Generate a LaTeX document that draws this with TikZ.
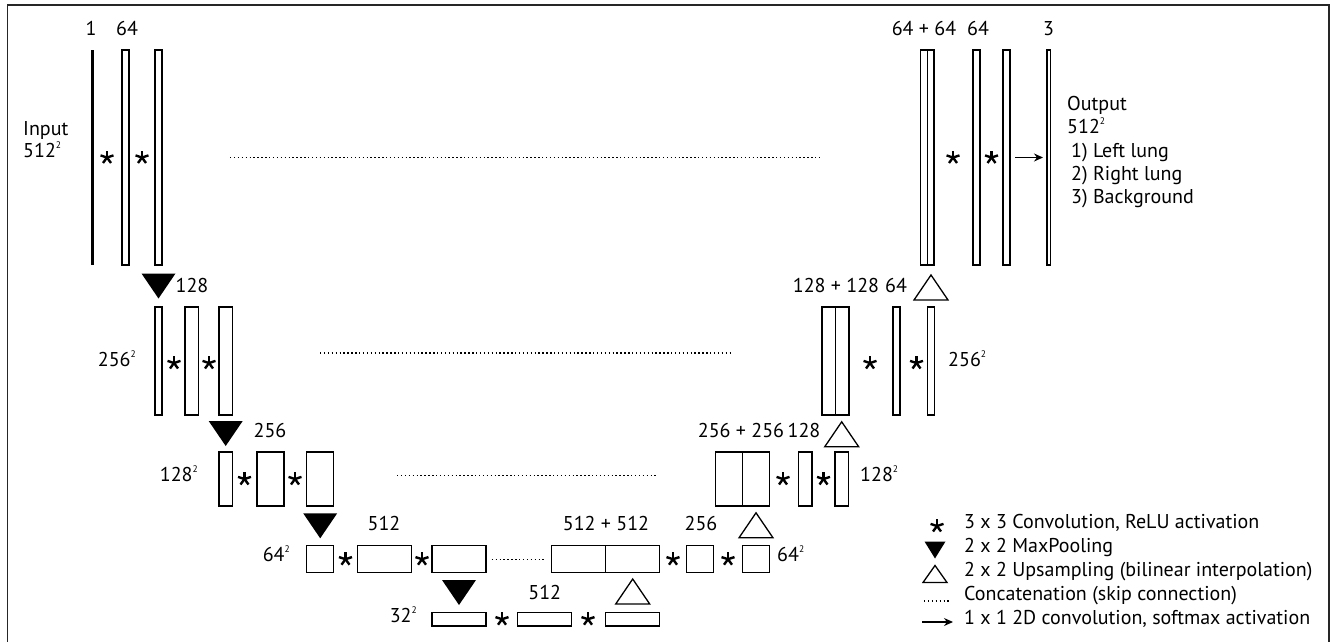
\documentclass[tikz,border=0pt]{standalone}
\usepackage{fontspec}
\setmainfont{PT Sans}
\usetikzlibrary{arrows.meta}
\newcommand\sqr{\raisebox{0.45em}{\fontsize{9.5}{9.5}\selectfont 2}}
\newcommand\cstar[2]{\foreach \a in {-90,-18,-162,54,126} \draw[line width=2.4pt] (#1,#2) -- ++(\a:6.8);}
\newcommand\bx[5]{\node[box,minimum width={(#4)-(#2)},minimum height={(#5)-(#3)}] (#1) at ({((#2)+(#4))/2},{((#3)+(#5))/2}) {};}
\newcommand\dtri[4]{\fill (#1-#3,#2-#4) -- (#1+#3,#2-#4) -- (#1,#2+#4) -- cycle;}
\newcommand\utri[4]{\draw[line width=1.3pt,line join=miter] (#1-#3,#2+#4) -- (#1+#3,#2+#4) -- (#1,#2-#4) -- cycle;}
\begin{document}
\begin{tikzpicture}[x=1pt,y=-1pt,
  box/.style={draw, line width=1.3pt, inner sep=0pt, outer sep=0pt},
  lbl/.style={inner sep=0pt, font=\fontsize{20}{24}\selectfont, text height=0.7em, text depth=0.2em},
  skip/.style={line width=1.2pt, dash pattern=on 1.4pt off 2.5pt},
  arr/.style={line width=1.3pt, -{Stealth[length=9pt,width=8pt]}}
]
\useasboundingbox (0,0) rectangle (1336,642);
\draw[line width=1.5pt, black!85] (7.5,642) -- (7.5,5) -- (1329,5) -- (1329,642);

% ---- level 1 (512^2)
\node[fill=black, inner sep=0pt, minimum width=3pt, minimum height=215pt] (in) at (92,157.5) {};
\bx{a1}{122}{50}{129}{265}
\bx{a2}{155}{50}{162}{265}
\bx{d1c1}{920.5}{50}{927.5}{265}
\bx{d1c2}{927.5}{50}{934}{265}
\bx{d1a}{973}{50}{980}{265}
\bx{d1b}{1003}{50}{1010}{265}
\bx{out}{1047}{50}{1050.5}{265}

% ---- level 2 (256^2)
\bx{b0}{155}{307}{162}{415}
\bx{b1}{185}{307}{198.5}{415}
\bx{b2}{219}{307}{232.5}{415}
\bx{d2c1}{822}{307}{835.5}{415}
\bx{d2c2}{835.5}{307}{849}{415}
\bx{d2a}{893}{307}{900}{415}
\bx{d2b}{927.5}{307}{934.5}{415}

% ---- level 3 (128^2)
\bx{c0}{219}{452}{232.5}{506}
\bx{c1}{257}{452}{284}{506}
\bx{c2}{306.7}{452}{333.7}{506}
\bx{d3c1}{715.5}{452}{742.5}{506}
\bx{d3c2}{742.5}{452}{769.5}{506}
\bx{d3a}{798.5}{452}{812}{506}
\bx{d3b}{835}{452}{848.5}{506}

% ---- level 4 (64^2)
\bx{e0}{306.7}{545.7}{333.7}{572.7}
\bx{e1}{357.5}{545.7}{411.5}{572.7}
\bx{e2}{432}{545.7}{486}{572.7}
\bx{d4c1}{551.7}{545.7}{605.7}{572.7}
\bx{d4c2}{605.7}{545.7}{659.7}{572.7}
\bx{d4a}{686.7}{545.7}{713.7}{572.7}
\bx{d4b}{742.5}{545.7}{769.5}{572.7}

% ---- level 5 (32^2)
\bx{f0}{432}{612.3}{486}{626}
\bx{f1}{517.7}{612.3}{571.7}{626}
\bx{f2}{605.7}{612.3}{659.7}{626}

% ---- convolutions
\cstar{107}{157.5}\cstar{142}{157.5}\cstar{953}{157.5}\cstar{991.5}{157.5}
\cstar{174}{363}\cstar{209}{363}\cstar{870}{363}\cstar{916.5}{363}
\cstar{244.5}{479}\cstar{295}{479}\cstar{783}{479}\cstar{823.5}{479}
\cstar{345.5}{559.2}\cstar{422}{559.2}\cstar{673}{559.2}\cstar{728}{559.2}
\cstar{502}{619.2}\cstar{588}{619.2}

% ---- pooling / upsampling
\dtri{158.5}{286}{17}{12.5}\dtri{225.7}{433.5}{17}{12.5}\dtri{320.2}{525.8}{17}{12.5}\dtri{459}{592.5}{17}{12.5}
\utri{632.7}{591.5}{17}{12.5}\utri{756}{525.3}{17}{12.5}\utri{841.7}{434.3}{17}{12.5}\utri{931}{287.5}{17}{12.5}

% ---- skip connections
\coordinate (s1a) at (230,157.5); \coordinate (s1b) at (820,157.5);
\coordinate (s2a) at (320,353); \coordinate (s2b) at (732,353);
\coordinate (s3a) at (397,475.7); \coordinate (s3b) at (657,475.7);
\coordinate (s4a) at (491.7,559.2); \coordinate (s4b) at (546,559.2);
\draw[skip] (s1a) -- (s1b);
\draw[skip] (s2a) -- (s2b);
\draw[skip] (s3a) -- (s3b);
\draw[skip] (s4a) -- (s4b);

% ---- final 1x1 conv
\draw[arr] ([xshift=5pt]d1b.east) -- ([xshift=-4pt]out.west);

% ---- channel labels
\node[lbl] (t1) at (91,33) {1};
\node[lbl] (t64) at (127,33) {64};
\node[lbl] (t6464) at (924,33) {64 + 64};
\node[lbl] (t64r) at (978,33) {64};
\node[lbl] (t3) at (1048.5,33) {3};
\node[lbl] (t128) at (192,290) {128};
\node[lbl] (t128128) at (836,290) {128 + 128};
\node[lbl] (t64b) at (896,290) {64};
\node[lbl] (t256) at (270,434.5) {256};
\node[lbl] (t256256) at (741,434.5) {256 + 256};
\node[lbl] (t128r) at (804,434.5) {128};
\node[lbl] (t512) at (384,528) {512};
\node[lbl] (t512512) at (606,528) {512 + 512};
\node[lbl] (t256r) at (701,528) {256};
\node[lbl] (t512b) at (544.7,597) {512};

% ---- resolution labels
\node[lbl, anchor=west] (inp) at (23,133) {Input};
\node[lbl, anchor=west] (inr) at (23,155) {512\sqr};
\node[lbl, anchor=east] (r2) at (136,364) {256\sqr};
\node[lbl, anchor=east] (r3) at (198,479) {128\sqr};
\node[lbl, anchor=east] (r4) at (290,559) {64\sqr};
\node[lbl, anchor=east] (r5) at (417,620) {32\sqr};
\node[lbl, anchor=west] (r2r) at (948,364) {256\sqr};
\node[lbl, anchor=west] (r3r) at (860,479) {128\sqr};
\node[lbl, anchor=west] (r4r) at (777,559) {64\sqr};

% ---- output description
\node[lbl, anchor=west] (o1) at (1067,108) {Output};
\node[lbl, anchor=west] (o2) at (1067,131) {512\sqr};
\node[lbl, anchor=west] (o3) at (1071,155) {1) Left lung};
\node[lbl, anchor=west] (o4) at (1071,178) {2) Right lung};
\node[lbl, anchor=west] (o5) at (1071,201) {3) Background};

% ---- legend
\cstar{937}{526}
\node[lbl, anchor=west] (l1) at (964,526) {3 x 3 Convolution, ReLU activation};
\dtri{935}{550}{10.5}{8.5}
\node[lbl, anchor=west] (l2) at (964,550) {2 x 2 MaxPooling};
\utri{935}{574}{12}{8.5}
\node[lbl, anchor=west] (l3) at (964,574) {2 x 2 Upsampling (bilinear interpolation)};
\coordinate (lg4a) at (924,601); \coordinate (lg4b) at (950,601);
\draw[skip] (lg4a) -- (lg4b);
\node[lbl, anchor=west] (l4) at (964,598) {Concatenation (skip connection)};
\coordinate (lg5a) at (922,622); \coordinate (lg5b) at (953,622);
\draw[arr] (lg5a) -- (lg5b);
\node[lbl, anchor=west] (l5) at (964,622) {1 x 1 2D convolution, softmax activation};
\end{tikzpicture}
\end{document}
